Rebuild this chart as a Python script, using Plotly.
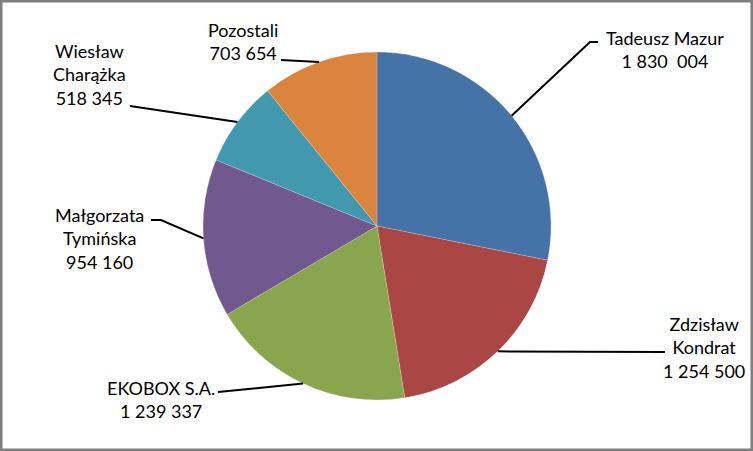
import math
import plotly.graph_objects as go

# Dane
nazwy = ["Tadeusz Mazur", "Zdzisław Kondrat", "EKOBOX S.A.",
         "Małgorzata Tymińska", "Wiesław Charążka", "Pozostali"]
wartosci = [1830004, 1254500, 1239337, 954160, 518345, 703654]
etykiety = ["Tadeusz Mazur<br>1 830\u00a0\u00a0004",
            "Zdzisław<br>Kondrat<br>1 254 500",
            "EKOBOX S.A.<br>1 239 337",
            "Małgorzata<br>Tymińska<br>954 160",
            "Wiesław<br>Charążka<br>518 345",
            "Pozostali<br>703 654"]
kolory = ["#4572A7", "#AA4643", "#89A54E", "#71588F", "#4198AF", "#DB843D"]

W, H = 753, 451
cx, cy, r = 377, 226, 174  # srodek i promien kola w px

# pozycje etykiet (px): tekst, punkt zalamania linii, koniec linii przy tekscie
tekst_pos = [(665, 49), (704, 347), (161, 399), (99, 238), (89, 74), (243, 41)]
linia_pos = [[(590, 42), (598, 42)],
             [(665, 352)],
             [(218, 392)],
             [(161, 220), (151, 220)],
             [(130, 106)],
             [(281, 60)]]


def px(x, y):
    return x / W, 1 - y / H


fig = go.Figure(go.Pie(
    labels=nazwy,
    values=wartosci,
    sort=False,
    direction="clockwise",
    rotation=0,
    marker=dict(colors=kolory, line=dict(color="rgba(255,255,255,0.4)", width=0.5)),
    textinfo="none",
    hoverinfo="label+value",
    domain=dict(x=[(cx - r) / W, (cx + r) / W], y=[(H - cy - r) / H, (H - cy + r) / H]),
    showlegend=False,
))

shapes = []
annotations = []
suma = sum(wartosci)
kat = 0.0
for i, v in enumerate(wartosci):
    srodek = kat + v / suma * 360 / 2
    kat += v / suma * 360
    a = math.radians(srodek)
    pts = [(cx + r * math.sin(a), cy - r * math.cos(a))] + linia_pos[i]
    path = "M " + " L ".join(f"{px(x, y)[0]},{px(x, y)[1]}" for x, y in pts)
    shapes.append(dict(type="path", path=path, xref="paper", yref="paper",
                       line=dict(color="black", width=2)))
    tx, ty = px(*tekst_pos[i])
    annotations.append(dict(text=etykiety[i], x=tx, y=ty, xref="paper", yref="paper",
                            showarrow=False, xanchor="center", yanchor="middle",
                            font=dict(family="Lato", size=18, color="black")))

shapes.append(dict(type="rect", xref="paper", yref="paper", x0=0, y0=0, x1=1, y1=1,
                   line=dict(color="#7f7f7f", width=5)))

fig.update_layout(
    width=W, height=H,
    margin=dict(l=0, r=0, t=0, b=0),
    paper_bgcolor="white",
    shapes=shapes,
    annotations=annotations,
)

fig.write_html("out.html",
               config={"displayModeBar": False},
               post_script="document.body.style.margin='0';"
                           "document.body.style.overflow='hidden';")
